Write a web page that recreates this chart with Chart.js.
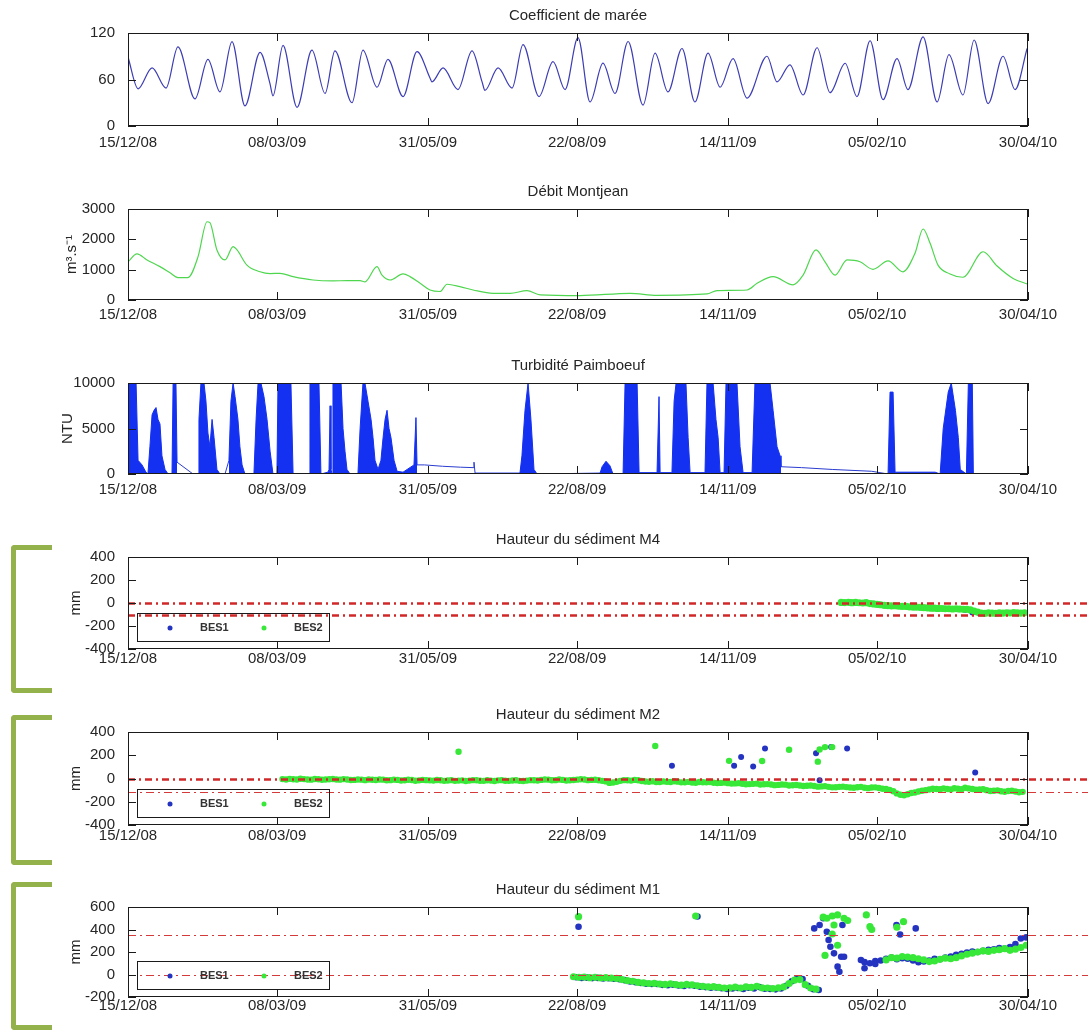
<!DOCTYPE html>
<html>
<head>
<meta charset="utf-8">
<script src="https://cdn.jsdelivr.net/npm/chart.js@4.4.0/dist/chart.umd.min.js"></script>
<style>
  body { margin: 0; background: #fff; width: 1088px; height: 1030px; position: relative; overflow: hidden; }
  .brk { position: absolute; left: 11px; width: 41px; box-sizing: border-box;
         border: 5px solid #93b24c; border-right: none; border-radius: 4px 0 0 4px; }
</style>
</head>
<body>
<div class="brk" style="top:545px;height:148px"></div>
<div class="brk" style="top:715px;height:150px"></div>
<div class="brk" style="top:882px;height:148px"></div>
<script>
// axe des temps : jours depuis le 15/12/08
const xTickDays = [0, 83, 167, 250, 334, 417, 501];
const xTickLabels = ['15/12/08', '08/03/09', '31/05/09', '22/08/09', '14/11/09', '05/02/10', '30/04/10'];

// coefficient de marée (extrema)
const tideDays = [0,5.6,13.4,21.2,27.8,37.3,44.5,51.2,57.9,65.1,73.5,79.0,80.7,86.3,94.1,102.4,109.7,115.2,124.7,130.8,
  138.6,144.7,153.1,160.9,168.1,169.2,175.4,183.7,191.5,197.1,198.7,206.0,213.8,219.9,228.8,236.6,243.3,250.5,257.2,264.4,
  271.1,278.4,286.7,293.4,300.6,308.4,315.6,322.9,329.6,336.8,344.6,355.7,361.3,368.5,375.8,383.6,390.8,399.2,405.8,413.1,
  420.3,428.1,434.2,442.6,450.4,457.0,464.8,471.0,478.8,487.1,493.8,500.5];
const tideCoef = [89,48,75,49,102,35,86,44,109,26,95,55,39,104,24,98,42,97,30,98,
  50,86,38,96,62,57,75,47,97,57,46,75,49,105,38,83,47,114,31,81,
  42,109,27,94,44,100,31,94,50,87,36,90,57,79,40,101,43,81,38,110,
  34,87,47,115,31,92,40,111,29,90,47,100];

// débit Montjean (m3/s)
const flowDays = [0,5.0,10.6,17.8,23.4,27.8,33.4,39.0,44.0,45.6,49.5,54.0,58.5,60.7,66.2,73.5,79.1,84.6,91.9,103.0,
  114.1,121.9,129.2,131.9,138.6,141.4,145.9,153.1,157.0,162.6,168.1,173.7,177.6,184.8,192.1,203.2,212.7,222.1,229.4,251.6,
  279.5,294.5,322.3,327.9,344.6,350.2,359.1,370.2,375.8,383.0,388.0,393.6,400.3,407.5,414.7,423.1,431.4,438.1,442.6,446.5,
  450.9,457.6,464.8,476.0,483.8,492.7,501];
const flowVals = [1260,1520,1320,1100,900,740,740,1430,2580,2550,1650,1320,1760,1650,1150,930,870,880,770,660,
  630,640,640,600,1100,820,660,860,770,550,330,280,520,440,330,220,220,310,170,145,
  220,155,200,310,330,550,770,500,820,1650,1260,820,1320,1260,1010,1290,930,1540,2340,1870,
  1150,860,750,1590,1120,710,520];

// turbidité Paimboeuf (NTU) : enveloppes des bouffées, et lignes de raccord des lacunes
const turbBursts = [
  [[0,10000],[4.5,10000],[5.6,1500],[7.8,1000],[10.0,200],[11.1,0],[12.2,3000],[13.4,6500],[14.5,7000],[15.6,7300],
   [16.7,6000],[17.8,5500],[18.9,2000],[20.6,500],[22.3,0],[24.5,0],[25.1,10000],[26.7,10000],[27.3,1300]],
  [[36.2,0],[39.0,0],[39.5,6000],[40.6,10000],[42.3,10000],[43.4,8000],[44.5,4500],[45.6,3000],[46.8,6000],[47.9,4000],
   [49.5,500],[51.2,0],[54.0,0]],
  [[56.2,1500],[57.3,8000],[58.5,10000],[59.6,8500],[61.2,6000],[62.3,3000],[63.5,1000],[65.1,0],[70.1,0],[71.3,6000],
   [72.4,10000],[74.0,10000],[75.7,8500],[77.4,6000],[79.1,2500],[80.7,0],[82.9,0],[83.5,10000],[90.7,10000],[91.9,0],
   [100.8,0],[101.3,10000],[106.3,10000],[107.4,0],[111.3,200],[111.9,500],[112.5,7500],[113.0,500],[113.6,0],[114.1,10000],
   [118.6,10000],[119.7,5000],[120.8,2500],[121.9,500],[123.6,0],[128.0,0],[129.2,5000],[130.8,10000],[131.9,10000],[133.6,8000],
   [135.3,6000],[136.4,4000],[137.5,1500],[139.2,500],[140.8,1500],[142.0,4000],[143.1,6000],[144.2,7000],[145.3,5000],[146.4,4000],
   [148.1,1500],[149.8,300],[153.1,200],[159.2,1000],[160.3,6200],[160.9,1000]],
  [[193.2,100],[218.2,100],[219.3,2000],[221.0,7000],[222.7,10000],[224.3,6000],[226.0,500],[227.7,0],[262.8,100],[263.9,800],
   [266.1,1400],[268.3,900],[270.0,0],[275.6,0],[276.7,10000],[283.4,10000],[284.5,150],[294.5,150],[295.6,8500],[296.2,150],
   [302.8,150],[304.0,8000],[305.1,10000],[310.6,10000],[311.8,4000],[312.9,150],[321.2,150],[322.3,10000],[325.7,10000],[327.3,6000],
   [328.5,4000],[329.6,150],[331.8,150],[332.9,10000],[339.0,10000],[340.7,3000],[342.4,150],[347.4,150],[349.0,10000],[357.4,10000],
   [359.1,7000],[361.3,3000],[363.0,2000],[363.5,800]],
  [[423.1,0],[424.2,9000],[425.9,9000],[427.0,200],[449.3,200],[452.1,0],[453.8,5000],[456.6,9000],[458.3,10000],[460.6,7000],
   [462.2,4000],[463.3,500],[466.7,0],[467.8,10000],[470.0,10000],[470.6,0]]
];
const turbLinks = [
  [[27.3,1300],[36.2,0]],
  [[54.0,0],[56.2,1500]],
  [[160.9,1000],[165,1000],[175,850],[185,750],[192.1,700],[192.6,1300],[193.2,100]],
  [[363.5,800],[375,700],[392,500],[414,300],[423.1,0]]
];

// hauteur du sédiment M4 (mm), relevés réguliers
const m4Bes1Start = 398, m4Bes1Step = 4;
const m4Bes1 = [3,4,1,2,-6,-14,-22,-27,-29,-33,-36,-40,-44,-47,-50,-52,-54,-58,-82,-89,-87,-88,-86,-85,-87,-86];
const m4Bes2Start = 397, m4Bes2Step = 2;
const m4Bes2 = [5,4,6,3,5,2,0,3,-5,-8,-12,-15,-20,-22,-25,-24,-28,-30,-30,-33,-35,-35,-38,-40,-42,-45,
  -45,-47,-48,-50,-50,-52,-50,-53,-55,-55,-60,-70,-80,-88,-90,-85,-88,-90,-86,-88,-85,-87,-84,-86,-88,-85];
const m4Refs = [0, -100];

// hauteur du sédiment M2 (mm)
const m2Bes2Start = 86, m2Bes2Step = 4;
const m2Bes2 = [-5,-3,-8,-5,-10,-6,-8,-4,-10,-8,-12,-10,-9,-13,-10,-14,-12,-15,-13,-16,-14,-18,-15,-17,-20,-16,-18,-15,-20,-18,
  -16,-19,-17,-20,-18,-15,-12,-10,-14,-12,-15,-10,-8,-12,-15,-25,-35,-20,-15,-12,-22,-28,-30,-25,-30,-27,-32,-35,-30,-33,
  -36,-38,-40,-42,-45,-48,-44,-50,-52,-55,-53,-58,-60,-62,-65,-68,-72,-75,-70,-78,-75,-80,-78,-82,-90,-110,-140,-135,-120,-105,
  -95,-90,-85,-95,-88,-80,-90,-95,-100,-105,-110,-108,-112,-115];
const m2Bes2bStart = 88, m2Bes2bStep = 4;
const m2Bes2b = [-9,-6,-2,-9,-4,-11,-6,-9,-5,-13,-8,-14,-11,-8,-15,-10,-17,-11,-19,-12,-16,-13,-20,-14,-18,-21,-14,-19,-15,-21,
  -14,-20,-15,-22,-14,-17,-9,-15,-9,-17,-13,-7,-14,-11,-20,-38,-28,-14,-18,-15,-26,-24,-31,-28,-24,-33,-29,-37,-32,-30,
  -39,-35,-44,-40,-50,-46,-52,-48,-57,-51,-60,-56,-64,-60,-70,-66,-76,-72,-74,-80,-72,-83,-76,-88,-98,-128,-145,-125,-112,-100,
  -88,-92,-90,-84,-92,-85,-97,-92,-108,-102,-114,-106,-118];
const m2Bes2OutDays = [184, 293.5, 334.6, 353, 368, 384, 385, 388, 392];
const m2Bes2OutVals = [230, 280, 152, 150, 247, 145, 250, 270, 270];
const m2Bes1Days = [302.8, 337.4, 341.3, 348, 354.6, 383, 385, 391.4, 400.3, 471.6];
const m2Bes1Vals = [110, 110, 184, 103, 258, 218, -15, 270, 258, 52];
const m2Refs = [0, -120];

// hauteur du sédiment M1 (mm)
const m1Bes1Start = 249.5, m1Bes1Step = 3;
const m1Bes1 = [-25,-30,-28,-32,-30,-35,-33,-38,-42,-50,-62,-68,-75,-82,-85,-84,-92,-95,-90,-98,-102,-96,-100,-108,-112,-118,
  -115,-122,-128,-125,-120,-128,-118,-124,-112,-126,-128,-132,-125,-100,-60,-35,-40,-100,-130,-138];
const m1Bes1bStart = 410, m1Bes1bStep = 3;
const m1Bes1b = [110,100,120,125,140,150,135,145,140,125,110,115,125,140,135,150,160,175,185,195,205,200,210,220,225,235,230,245,270,320,330];
const m1Bes1OutDays = [250.8,317,382,385,387,389,390,391,393,395,396,397,397.7,398.6,408,410,416,427.8,429.8,438.5];
const m1Bes1OutVals = [425,515,410,440,500,380,307,247,188,70,25,158,440,158,129,55,93,440,355,410];
const m1Bes2Start = 248, m1Bes2Step = 3;
const m1Bes2 = [-20,-25,-22,-28,-25,-30,-28,-32,-35,-45,-55,-60,-70,-75,-80,-78,-85,-88,-82,-90,-95,-88,-92,-100,-105,-110,
  -108,-115,-120,-118,-112,-120,-110,-115,-105,-118,-120,-125,-118,-110,-80,-50,-45,-90,-120,-130];
const m1Bes2bStart = 422, m1Bes2bStep = 3;
const m1Bes2b = [130,150,145,160,155,150,140,130,115,120,135,145,140,150,165,180,190,200,210,205,215,220,230,215,225,240,260];
const m1Bes2OutDays = [250.8,316,387,389,392,395,398.6,388,392,395,393,400.6,411,413,414,428,431.7];
const m1Bes2OutVals = [514,520,510,500,520,530,500,170,360,260,440,480,530,425,400,420,470];
const m1Refs = [350, 0];

const INK = '#262626';
const FONT = "'Liberation Sans', Arial, sans-serif";
const BLUE_PT = '#2433c0';
const GREEN_PT = '#38e838';

const pts = (xs, ys) => xs.map((x, i) => ({ x: x, y: ys[i] }));
const series = (start, step, ys) => ys.map((y, i) => ({ x: start + i * step, y: y }));
const pairs = seg => seg.map(p => ({ x: p[0], y: p[1] }));

function lineSet(data, color, extra) {
  return Object.assign({ data: data, borderColor: color, backgroundColor: color, borderWidth: 1.2,
    pointRadius: 0, tension: 0 }, extra || {});
}
function dotSet(label, data, color, r, order) {
  return { label: label, data: data, showLine: false, order: order, pointRadius: r, pointHoverRadius: r,
    pointBorderWidth: 0, pointBackgroundColor: color, borderColor: color, backgroundColor: color };
}

// cadre, graduations intérieures, lignes de référence et légende
function framePlugin(p) {
  return {
    id: 'frame',
    afterDatasetsDraw(chart) {
      const ctx = chart.ctx, a = chart.chartArea, xs = chart.scales.x, ys = chart.scales.y;
      ctx.save();
      (p.refs || []).forEach((v, i) => {
        const st = p.refStyles[i];
        const y = Math.round(ys.getPixelForValue(v)) + 0.5;
        ctx.strokeStyle = st.color; ctx.lineWidth = st.width; ctx.setLineDash(st.dash);
        ctx.beginPath(); ctx.moveTo(a.left, y); ctx.lineTo(chart.width, y); ctx.stroke();
      });
      ctx.setLineDash([]);
      ctx.strokeStyle = '#1a1a1a'; ctx.lineWidth = 1;
      ctx.strokeRect(a.left + 0.5, a.top + 0.5, a.right - a.left - 1, a.bottom - a.top - 1);
      ctx.beginPath();
      xTickDays.forEach(v => {
        const x = Math.round(xs.getPixelForValue(v)) + 0.5;
        ctx.moveTo(x, a.bottom); ctx.lineTo(x, a.bottom - 8);
        ctx.moveTo(x, a.top); ctx.lineTo(x, a.top + 8);
      });
      p.yTicks.forEach(v => {
        const y = Math.round(ys.getPixelForValue(v)) + 0.5;
        ctx.moveTo(a.left, y); ctx.lineTo(a.left + 8, y);
        ctx.moveTo(a.right, y); ctx.lineTo(a.right - 8, y);
      });
      ctx.stroke();
      if (p.legend) {
        const bx = a.left + 9, bh = 28, by = a.bottom - 8 - bh, bw = 192;
        ctx.strokeStyle = '#1a1a1a';
        ctx.strokeRect(bx + 0.5, by + 0.5, bw, bh);
        ctx.font = 'bold 11px ' + FONT; ctx.textBaseline = 'middle'; ctx.textAlign = 'left';
        chart.data.datasets.filter(d => d.label).forEach((d, i) => {
          const mx = bx + 33 + i * 94, cy = by + bh / 2 + 1;
          ctx.fillStyle = d.pointBackgroundColor;
          ctx.beginPath(); ctx.arc(mx, cy, 2.5, 0, Math.PI * 2); ctx.fill();
          ctx.fillStyle = '#333';
          ctx.fillText(d.label, mx + 30, cy);
        });
      }
      ctx.restore();
    }
  };
}

function addPanel(p) {
  const h = 26 + p.plotH + 26;
  const cv = document.createElement('canvas');
  cv.width = 1088; cv.height = h;
  cv.style.position = 'absolute'; cv.style.left = '0px'; cv.style.top = (p.top - 26) + 'px';
  document.body.appendChild(cv);
  const padL = p.yTitleX - 9;
  const tickFont = { family: FONT, size: 15 };
  return new Chart(cv.getContext('2d'), {
    type: 'line',
    data: { datasets: p.datasets },
    options: {
      responsive: false, animation: false, events: [],
      layout: { padding: { left: padL, right: 60, top: 0, bottom: 0 } },
      plugins: {
        legend: { display: false }, tooltip: { enabled: false },
        title: { display: true, fullSize: false, text: p.title, color: INK,
                 font: { family: FONT, size: 15, weight: 'normal' }, padding: { top: 0, bottom: 8 } }
      },
      scales: {
        x: {
          type: 'linear', min: 0, max: 501,
          grid: { display: false }, border: { display: false },
          afterBuildTicks: s => { s.ticks = xTickDays.map(v => ({ value: v })); },
          afterFit: s => { s.height = 26; },
          ticks: { autoSkip: false, maxRotation: 0, padding: p.xLabelPad, color: INK, font: tickFont,
                   callback: (v, i) => xTickLabels[i] }
        },
        y: {
          type: 'linear', min: p.yMin, max: p.yMax,
          grid: { display: false }, border: { display: false },
          afterBuildTicks: s => { s.ticks = p.yTicks.map(v => ({ value: v })); },
          afterFit: s => { s.width = 128 - padL; },
          ticks: { padding: 5, color: INK, font: tickFont, callback: v => String(v) },
          title: { display: !!p.yTitle, text: p.yTitle || '', color: INK, font: tickFont, padding: { top: 0, bottom: 0 } }
        }
      }
    },
    plugins: [framePlugin(p)]
  });
}

const thick = { color: '#d02828', width: 2.5, dash: [7, 4, 2, 4] };
const thin = { color: '#d43a3a', width: 1.2, dash: [8, 4, 2, 4] };

addPanel({
  top: 33, plotH: 93, title: 'Coefficient de marée', yMin: 0, yMax: 120, yTicks: [0, 60, 120], yTitleX: 75, xLabelPad: 0,
  datasets: [lineSet(pts(tideDays, tideCoef), '#3c3cb4', { cubicInterpolationMode: 'monotone' })]
});
addPanel({
  top: 209, plotH: 91, title: 'Débit Montjean', yMin: 0, yMax: 3000, yTicks: [0, 1000, 2000, 3000],
  yTitle: 'm³.s⁻¹', yTitleX: 72, xLabelPad: -2,
  datasets: [lineSet(pts(flowDays, flowVals), '#4fd64f', { cubicInterpolationMode: 'monotone' })]
});
addPanel({
  top: 383, plotH: 91, title: 'Turbidité Paimboeuf', yMin: 0, yMax: 10000, yTicks: [0, 5000, 10000],
  yTitle: 'NTU', yTitleX: 68, xLabelPad: -1,
  datasets: turbBursts.map(s => lineSet(pairs(s), '#1430f0', { fill: 'origin', borderWidth: 1 }))
    .concat(turbLinks.map(s => lineSet(pairs(s), '#2a3ccf', { borderWidth: 1 })))
});
addPanel({
  top: 557, plotH: 92, title: 'Hauteur du sédiment M4', yMin: -400, yMax: 400, yTicks: [-400, -200, 0, 200, 400],
  yTitle: 'mm', yTitleX: 76, xLabelPad: -7, legend: true, refs: m4Refs, refStyles: [thick, thick],
  datasets: [
    dotSet('BES1', series(m4Bes1Start, m4Bes1Step, m4Bes1), BLUE_PT, 3, 2),
    dotSet('BES2', series(m4Bes2Start, m4Bes2Step, m4Bes2), GREEN_PT, 3.6, 1)
  ]
});
addPanel({
  top: 732, plotH: 93, title: 'Hauteur du sédiment M2', yMin: -400, yMax: 400, yTicks: [-400, -200, 0, 200, 400],
  yTitle: 'mm', yTitleX: 76, xLabelPad: -6, legend: true, refs: m2Refs, refStyles: [thick, thin],
  datasets: [
    dotSet('BES1', pts(m2Bes1Days, m2Bes1Vals), BLUE_PT, 3, 2),
    dotSet('BES2', series(m2Bes2Start, m2Bes2Step, m2Bes2).concat(series(m2Bes2bStart, m2Bes2bStep, m2Bes2b),
      pts(m2Bes2OutDays, m2Bes2OutVals)), GREEN_PT, 3.2, 1)
  ]
});
addPanel({
  top: 907, plotH: 90, title: 'Hauteur du sédiment M1', yMin: -200, yMax: 600, yTicks: [-200, 0, 200, 400, 600],
  yTitle: 'mm', yTitleX: 76, xLabelPad: -8, legend: true, refs: m1Refs, refStyles: [thin, thin],
  datasets: [
    dotSet('BES1', series(m1Bes1Start, m1Bes1Step, m1Bes1).concat(series(m1Bes1bStart, m1Bes1bStep, m1Bes1b),
      pts(m1Bes1OutDays, m1Bes1OutVals)), BLUE_PT, 3.3, 2),
    dotSet('BES2', series(m1Bes2Start, m1Bes2Step, m1Bes2).concat(series(m1Bes2bStart, m1Bes2bStep, m1Bes2b),
      pts(m1Bes2OutDays, m1Bes2OutVals)), GREEN_PT, 3.6, 1)
  ]
});
</script>
</body>
</html>
